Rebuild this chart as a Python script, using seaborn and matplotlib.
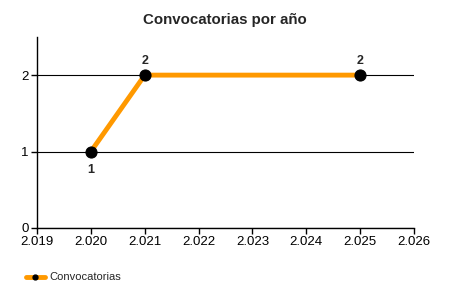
import matplotlib
matplotlib.use("Agg")
import matplotlib.pyplot as plt
import seaborn as sns
import pandas as pd
from matplotlib.ticker import FuncFormatter
from matplotlib.lines import Line2D

years = [2020, 2021, 2025]
counts = [1, 2, 2]
series_name = "Convocatorias"
title = "Convocatorias por año"

sns.set_style("white")
plt.rcParams['font.family'] = ['Liberation Sans', 'DejaVu Sans']

df = pd.DataFrame({"year": years, "count": counts})

fig = plt.figure(figsize=(4.5, 3), dpi=100)
ax = fig.add_axes([0.0822, 0.24, 0.838, 0.637])

sns.lineplot(data=df, x="year", y="count", ax=ax, color="#FF9900", linewidth=3.5,
             marker="o", markersize=8, markerfacecolor="black", markeredgecolor="black")

ax.set_xlim(2019, 2026)
ax.set_ylim(0, 2.5)
ax.set_xticks(range(2019, 2027))
ax.set_yticks([0, 1, 2])
ax.xaxis.set_major_formatter(FuncFormatter(lambda v, p: f"{int(v):,}".replace(",", ".")))
ax.set_xlabel("")
ax.set_ylabel("")
ax.grid(axis="y", color="black", linewidth=0.8)
ax.grid(axis="x", visible=False)
for s in ["top", "right"]:
    ax.spines[s].set_visible(False)
for s in ["left", "bottom"]:
    ax.spines[s].set_color("black")
    ax.spines[s].set_linewidth(1)
ax.tick_params(axis="both", which="major", direction="out", length=4, width=1,
               color="black", labelsize=9.5, labelcolor="black", bottom=True, left=True, pad=2)

# data labels
for x, y in zip(years, counts):
    if y == 1:
        ax.annotate(str(y), (x, y), xytext=(0, -13), textcoords="offset points",
                    ha="center", va="center", fontsize=9, fontweight="bold")
    else:
        ax.annotate(str(y), (x, y), xytext=(0, 10), textcoords="offset points",
                    ha="center", va="center", fontsize=9, fontweight="bold")

fig.text(0.5, 0.933, title, ha="center", va="center", fontsize=10.8, fontweight="bold")

handle = Line2D([0], [0], color="#FF9900", linewidth=3.5, marker="o", markersize=3.5,
                markerfacecolor="black", markeredgecolor="black")
fig.legend([handle], [series_name], loc="center left", bbox_to_anchor=(0.035, 0.075),
           frameon=False, fontsize=8, handlelength=1.7, handletextpad=0.4)

fig.savefig("out.png", dpi=100)
